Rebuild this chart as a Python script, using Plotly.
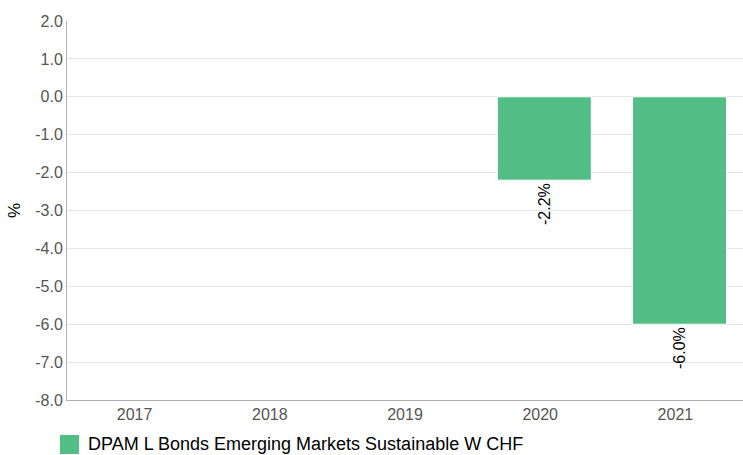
import plotly.graph_objects as go

categories = ["2017", "2018", "2019", "2020", "2021"]
values = [None, None, None, -2.2, -6.0]
labels = ["", "", "", "-2.2%", "-6.0%"]
series_name = "DPAM L Bonds Emerging Markets Sustainable W CHF"
y_ticks = [2, 1, 0, -1, -2, -3, -4, -5, -6, -7, -8]
y_tick_labels = ["2.0", "1.0", "0.0", "-1.0", "-2.0", "-3.0", "-4.0",
                 "-5.0", "-6.0", "-7.0", "-8.0"]
bar_color = "#52bd84"

fig = go.Figure()
fig.add_trace(go.Bar(
    x=categories, y=values, name=series_name,
    marker=dict(color=bar_color, line=dict(color="#ffffff", width=1)),
    text=labels, textposition="outside", textangle=-90,
    textfont=dict(size=16, color="#000000", family="Liberation Sans, Arial"),
    cliponaxis=False, width=0.695, offset=-0.317, showlegend=False,
))

# legend drawn as a swatch + label below the plot
fig.add_shape(type="rect", xref="paper", yref="paper",
              x0=-0.01036, x1=0.0178, y0=-0.0923, y1=-0.1425,
              fillcolor=bar_color, line=dict(width=0))
fig.add_annotation(text=series_name, xref="paper", yref="paper",
                   x=0.0281, y=-0.1174, xanchor="left", yanchor="middle",
                   showarrow=False, font=dict(size=18, color="#000000"))

fig.update_layout(
    width=743, height=455,
    margin=dict(l=67, r=0, t=21, b=55, autoexpand=False),
    plot_bgcolor="#ffffff", paper_bgcolor="#ffffff",
    font=dict(family="Liberation Sans, Arial", size=16, color="#555555"),
    yaxis=dict(
        range=[-8, 2], tickvals=y_ticks, ticktext=y_tick_labels,
        showgrid=True, gridcolor="#e6e6e6", gridwidth=1,
        showline=True, linecolor="#b0b0b0", linewidth=1,
        zeroline=False, ticks="", automargin=False,
        title=dict(text="%", font=dict(size=17, color="#000000"), standoff=10),
    ),
    xaxis=dict(
        showline=True, linecolor="#b0b0b0", linewidth=1, ticks="",
        showgrid=False, categoryorder="array", categoryarray=categories,
        automargin=False,
    ),
)

fig.write_html("out.html", config={"displayModeBar": False},
               post_script="document.body.style.margin='0px';document.body.style.overflow='hidden';")
